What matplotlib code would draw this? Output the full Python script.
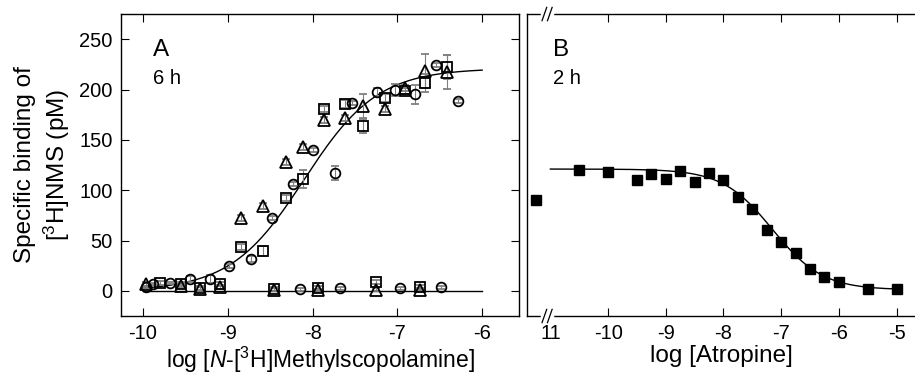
import numpy as np
import matplotlib
matplotlib.use('Agg')
import matplotlib.pyplot as plt

plt.rcParams['font.family'] = ['Liberation Sans', 'DejaVu Sans']
plt.rcParams['mathtext.fontset'] = 'custom'
plt.rcParams['mathtext.rm'] = 'Liberation Sans'
plt.rcParams['mathtext.it'] = 'Liberation Sans:italic'

# panel A - specific binding, three experiments
circ_x = [-9.97, -9.88, -9.68, -9.44, -9.21, -8.98, -8.73, -8.48, -8.23, -8.00, -7.74, -7.53, -7.24, -7.03, -6.79, -6.54, -6.28]
circ_y = [4, 6.6, 7.6, 11.9, 11.9, 24.5, 31.7, 72.4, 106.5, 140.2, 116.7, 186.2, 197.4, 199.7, 195.1, 224.2, 188.8]
circ_e = [1, 1, 1, 3, 4, 2, 3, 2, 2, 2, 7, 2, 4, 6, 9, 2, 2]

sq_x = [-9.80, -9.55, -9.33, -9.09, -8.84, -8.58, -8.31, -8.11, -7.87, -7.62, -7.40, -7.15, -6.91, -6.67, -6.42]
sq_y = [7.6, 6.6, 3.3, 6.6, 44, 39.7, 92.3, 111.1, 180.2, 185.2, 164.0, 191.8, 198.7, 206.3, 222.6]
sq_e = [2, 2, 2, 2, 3, 5, 3, 9, 3, 4, 7, 4, 3, 9, 12]

tri_x = [-9.97, -9.55, -9.33, -9.09, -8.84, -8.58, -8.31, -8.11, -7.87, -7.62, -7.40, -7.15, -6.91, -6.67, -6.42]
tri_y = [7, 5, 2, 4, 72.1, 84.7, 127.6, 142.9, 169.6, 171.6, 183.5, 180.2, 201.7, 218.3, 217.6]
tri_e = [2, 2, 2, 2, 3, 3, 3, 3, 3, 3, 12, 3, 3, 17, 17]

# panel A - non-specific points near zero
ns_circ_x = [-8.15, -7.68, -6.97, -6.49]
ns_circ_y = [1.7, 2.5, 2.5, 3.5]
ns_sq_x = [-8.46, -7.94, -7.25, -6.73]
ns_sq_y = [2, 2.7, 9.2, 3.7]
ns_tri_x = [-8.46, -7.94, -7.25, -6.73]
ns_tri_y = [1, 0.5, 1, 1]

# fit A: one-site saturation
bmax_A = 221
logkd_A = -8.1
fitA_range = [-10, -6]
zero_line_x = [-10, -6]
zero_line_y = [0, 0]

# panel B - atropine competition
ctrl_x = [-11.25]
ctrl_y = [90.4]
atr_x = [-10.5, -10.0, -9.5, -9.25, -9.0, -8.75, -8.5, -8.25, -8.0, -7.75, -7.5, -7.25, -7.0, -6.75, -6.5, -6.25, -6.0, -5.5, -5.0]
atr_y = [120.2, 118.2, 110.3, 115.6, 111.6, 118.9, 108.3, 117.2, 109.9, 93.0, 81.5, 60.9, 48.3, 37.4, 22.2, 13.6, 8.3, 1.7, 1.7]

top_B = 121
bot_B = 1
logic50_B = -7.15
fitB_range = [-11, -5]

xticksA = [-10, -9, -8, -7, -6]
yticks = [0, 50, 100, 150, 200, 250]
xticksB = [-11, -10, -9, -8, -7, -6, -5]
xticklabelsB = ['11', '-10', '-9', '-8', '-7', '-6', '-5']

fig = plt.figure(figsize=(9.15, 3.72), dpi=100)
axA = fig.add_axes([0.1322, 0.1505, 0.4355, 0.8118])
axB = fig.add_axes([0.5763, 0.1505, 0.4237, 0.8118])

ecol = '#808080'
mk = dict(mfc='none', mec='black', mew=1.3, ls='none', ecolor=ecol, elinewidth=0.8, capsize=2.8, capthick=0.8)

xs = np.linspace(fitA_range[0], fitA_range[1], 300)
axA.plot(xs, bmax_A / (1 + 10 ** (logkd_A - xs)), color='black', lw=1, zorder=1)
axA.plot(zero_line_x, zero_line_y, color='black', lw=1, zorder=1)

axA.errorbar(circ_x, circ_y, yerr=circ_e, marker='o', ms=7, **mk)
axA.errorbar(sq_x, sq_y, yerr=sq_e, marker='s', ms=6.5, **mk)
axA.errorbar(tri_x, tri_y, yerr=tri_e, marker='^', ms=8.5, **mk)
axA.errorbar(ns_circ_x, ns_circ_y, yerr=[1.5] * 4, marker='o', ms=7, **mk)
axA.errorbar(ns_sq_x, ns_sq_y, yerr=[2] * 4, marker='s', ms=6.5, **mk)
axA.errorbar(ns_tri_x, ns_tri_y, yerr=[1.5] * 4, marker='^', ms=8.5, **mk)

axA.set_xlim(-10.26, -5.56)
axA.set_ylim(-25, 275)
axA.set_xticks(xticksA)
axA.set_xticklabels([str(t) for t in xticksA])
axA.set_yticks(yticks)
axA.tick_params(direction='in', top=True, right=True, length=6, width=0.8, labelsize=14.5, pad=6)
axA.set_xlabel(r'log [$\it{N}$-[$^{3}$H]Methylscopolamine]', fontsize=16.5, labelpad=1)
axA.set_ylabel('Specific binding of\n' + r'[$^{3}$H]NMS (pM)', fontsize=17.5, labelpad=5, linespacing=1.25)
axA.text(0.08, 0.88, 'A', transform=axA.transAxes, fontsize=17.5, va='center')
axA.text(0.08, 0.785, '6 h', transform=axA.transAxes, fontsize=14.5, va='center')

xb = np.linspace(fitB_range[0], fitB_range[1], 300)
axB.plot(xb, bot_B + (top_B - bot_B) / (1 + 10 ** (xb - logic50_B)), color='black', lw=1, zorder=1)
axB.plot(ctrl_x, ctrl_y, 's', color='black', ms=6.5)
axB.plot(atr_x, atr_y, 's', color='black', ms=6.5)

axB.set_xlim(-11.40, -4.68)
axB.set_ylim(-25, 275)
axB.set_xticks(xticksB)
axB.set_xticklabels(xticklabelsB)
axB.set_yticks([])
axB.tick_params(direction='in', top=True, length=6, width=0.8, labelsize=14.5, pad=6)
for t in axB.xaxis.get_major_ticks()[:1]:
    t.tick1line.set_visible(False)
    t.tick2line.set_visible(False)
axB.spines['right'].set_visible(False)
axB.set_xlabel('log [Atropine]', fontsize=17.5, labelpad=1)
axB.text(0.066, 0.88, 'B', transform=axB.transAxes, fontsize=17.5, va='center')
axB.text(0.066, 0.785, '2 h', transform=axB.transAxes, fontsize=14.5, va='center')

# axis break marks
bx = 0.051
for yb in [0, 1]:
    axB.plot([bx - 0.012, bx + 0.012], [yb, yb], color='white', lw=2.5, transform=axB.transAxes, clip_on=False, zorder=5)
    for dx in [-0.007, 0.007]:
        axB.plot([bx + dx - 0.006, bx + dx + 0.006], [yb - 0.022, yb + 0.022], color='black', lw=0.9,
                 transform=axB.transAxes, clip_on=False, zorder=6)

for ax in [axA, axB]:
    for s in ax.spines.values():
        s.set_linewidth(1.0)

fig.savefig('out.png', dpi=100)
